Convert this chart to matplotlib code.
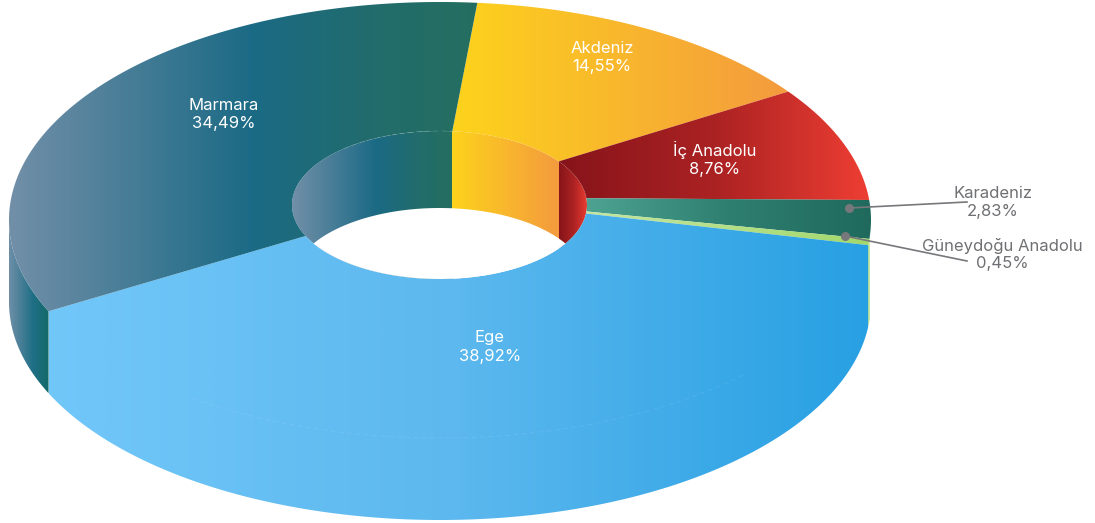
import matplotlib
matplotlib.use('Agg')
import matplotlib.pyplot as plt
import numpy as np
from matplotlib.colors import LinearSegmentedColormap
from matplotlib.patches import Polygon

plt.rcParams['font.family'] = ['Inter', 'DejaVu Sans']

regions = ['Akdeniz', 'İç Anadolu', 'Karadeniz', 'Güneydoğu Anadolu', 'Ege', 'Marmara']
shares = [14.55, 8.76, 2.83, 0.45, 38.92, 34.49]

# horizontal colour ramps for each slice
ramps = {
    'Akdeniz': [(0, '#fdd31c'), (1, '#f49b3e')],
    'İç Anadolu': [(0, '#86141a'), (0.5, '#ab2223'), (1, '#ee3e33')],
    'Karadeniz': [(0, '#4da392'), (0.5, '#2f7f70'), (1, '#1f6a5c')],
    'Güneydoğu Anadolu': [(0, '#c4e6a0'), (1, '#a2d86c')],
    'Ege': [(0, '#72c7f9'), (0.5, '#5cb8ee'), (1, '#27a0e3')],
    'Marmara': [(0, '#728fa8'), (0.52, '#1b6a85'), (0.78, '#226c6c'), (1, '#246e60')],
}
side_ramp = [(0, '#6f8fa8'), (0.6, '#1f6f86'), (1, '#136a68')]

# baselines of the two label lines, in pixels
label_pos = [(602, 53, 71), (715, 156, 174), (993, 198, 216), (1002, 251, 268),
             (490, 342, 361), (224, 110, 128)]
leaders = {'Karadeniz': ((849, 208), (967, 202)),
           'Güneydoğu Anadolu': ((845, 236), (967, 261))}

# ring geometry in pixels
OUT = (440, 220, 431, 218)
INN = (439.5, 205, 147.5, 74)
DEPTH = 82
INN_DEPTH = 77
START = 84.6
WARP = 0.08


def warp(theta):
    # nearer part of the ring takes more room under the perspective
    return theta + np.degrees(WARP) * np.cos(np.radians(theta))


def arc(ring, t0, t1, dy=0, n=200):
    t = np.radians(np.linspace(t0, t1, n))
    return np.column_stack([ring[0] + ring[2] * np.cos(t),
                            ring[1] - ring[3] * np.sin(t) + dy])


def fill(ax, pts, stops, clip=None, span=None):
    patch = Polygon(pts, closed=True, fc='none', ec='none')
    ax.add_patch(patch)
    x0, x1 = span if span else (pts[:, 0].min(), pts[:, 0].max())
    cmap = LinearSegmentedColormap.from_list('r', stops)
    im = ax.imshow(np.linspace(0, 1, 512)[None, :], cmap=cmap, aspect='auto',
                   extent=[x0, x1, pts[:, 1].max(), pts[:, 1].min()],
                   interpolation='bilinear')
    im.set_clip_path(clip if clip is not None else patch)


fig = plt.figure(figsize=(10.95, 5.23), dpi=100)
ax = fig.add_axes([0, 0, 1, 1])

angles = START - np.cumsum([0] + shares) * 3.6
edges = warp(angles)

# inner wall seen through the hole
hole = Polygon(arc(INN, 0, 360), closed=True, fc='none', ec='none')
ax.add_patch(hole)
for name, t0, t1 in [('Marmara', edges[0], 180), ('Akdeniz', edges[1], edges[0]),
                     ('İç Anadolu', 0, edges[1])]:
    pts = np.vstack([arc(INN, t0, t1), arc(INN, t1, t0, INN_DEPTH)])
    xs = arc(INN, t0, t1)[:, 0]
    fill(ax, pts, ramps[name], clip=hole, span=(xs.min(), xs.max()))

# floor of the hole stays open
cross = np.degrees(np.arcsin(INN_DEPTH / 2 / INN[3]))
opening = np.vstack([arc(INN, cross - 180, -cross), arc(INN, cross, 180 - cross, INN_DEPTH)])
ax.add_patch(Polygon(opening, closed=True, fc='white', ec='none'))

# left end of the outer wall
pts = np.vstack([arc(OUT, edges[5], -180), arc(OUT, -180, edges[5], DEPTH)])
fill(ax, pts, side_ramp)

# right end of the outer wall, only a hairline shows there
pts = np.vstack([arc(OUT, -4.5, edges[4]), arc(OUT, edges[4], -4.5, DEPTH)])
fill(ax, pts, ramps['Güneydoğu Anadolu'])

# top faces of the ring; Ege runs straight over the edge into its wall
for i, name in enumerate(regions):
    t0, t1 = edges[i], edges[i + 1]
    if name == 'Ege':
        pts = np.vstack([arc(OUT, t0, t1, DEPTH), arc(OUT, t1, t1, n=1),
                         arc(INN, t1, t0), arc(OUT, t0, t0, n=1)])
    else:
        pts = np.vstack([arc(OUT, t0, t1), arc(INN, t1, t0)])
    fill(ax, pts, ramps[name])

# faint seams along the ring edges
seam = arc(OUT, -125, -45)
ax.plot(seam[:, 0], seam[:, 1], color='white', lw=0.6, alpha=0.1, ls=(0, (6, 4)))
seam = arc(INN, 84, 130)
ax.plot(seam[:, 0], seam[:, 1], color='white', lw=0.6, alpha=0.15, ls=(0, (6, 4)))

# labels
for name, share, (x, y0, y1) in zip(regions, shares, label_pos):
    value = f'{share:.2f}'.replace('.', ',') + '%'
    color = '#6f7073' if name in leaders else 'white'
    ax.text(x, y0, name, color=color, fontsize=12, ha='center', va='baseline')
    ax.text(x, y1, value, color=color, fontsize=12, ha='center', va='baseline')
    if name in leaders:
        a, b = leaders[name]
        ax.plot([a[0], b[0]], [a[1], b[1]], color='#77787b', lw=1.2)
        ax.plot(a[0], a[1], 'o', color='#77787b', ms=5.5)

ax.set_xlim(0, 1095)
ax.set_ylim(523, 0)
ax.axis('off')
fig.savefig('out.png', dpi=100, facecolor='white')
